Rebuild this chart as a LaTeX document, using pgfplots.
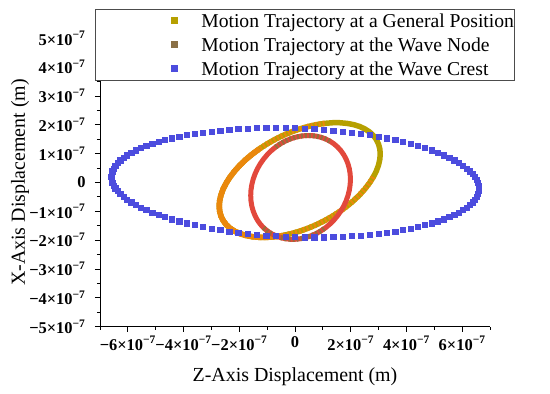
\documentclass[border=0pt]{standalone}
\usepackage{fontspec}
\setmainfont{Liberation Serif}
\usepackage{pgfplots}
\usepackage{pgfplotstable}
\pgfplotsset{compat=1.18}

\definecolor{olivec}{RGB}{182,160,0}
\definecolor{orangec}{RGB}{234,136,12}
\definecolor{redc}{RGB}{226,72,60}
\definecolor{brownc}{RGB}{150,110,60}
\definecolor{brownleg}{RGB}{138,112,70}
\definecolor{bluec}{RGB}{76,76,222}

\newcommand{\tl}[1]{\textbf{#1×10\textsuperscript{−7}}}

\pgfplotstableread{
z x
3.060 0.988
3.044 1.169
2.997 1.337
2.919 1.492
2.810 1.632
2.673 1.754
2.508 1.858
2.318 1.943
2.104 2.007
1.869 2.050
1.615 2.072
1.345 2.072
1.063 2.050
0.771 2.007
0.472 1.943
0.170 1.858
-0.132 1.754
-0.431 1.632
-0.723 1.492
-1.005 1.337
-1.275 1.169
-1.529 0.988
-1.764 0.798
-1.978 0.600
-2.168 0.396
-2.333 0.189
-2.470 -0.019
-2.579 -0.226
-2.657 -0.430
-2.704 -0.628
-2.720 -0.818
-2.704 -0.999
-2.657 -1.167
-2.579 -1.322
-2.470 -1.462
-2.333 -1.584
-2.168 -1.688
-1.978 -1.773
-1.764 -1.837
-1.529 -1.880
-1.275 -1.902
-1.005 -1.902
-0.723 -1.880
-0.431 -1.837
-0.132 -1.773
0.170 -1.688
0.472 -1.584
0.771 -1.462
1.063 -1.322
1.345 -1.167
1.615 -0.999
1.869 -0.818
2.104 -0.628
2.318 -0.430
2.508 -0.226
2.673 -0.019
2.810 0.189
2.919 0.396
2.997 0.600
3.044 0.798
3.060 0.988
}\generalring

\pgfplotstableread{
z x
1.990 0.112
1.980 0.296
1.951 0.475
1.902 0.647
1.835 0.810
1.750 0.963
1.648 1.103
1.530 1.229
1.398 1.340
1.252 1.434
1.095 1.510
0.928 1.569
0.753 1.608
0.572 1.628
0.387 1.628
0.200 1.608
0.013 1.569
-0.172 1.510
-0.353 1.434
-0.528 1.340
-0.695 1.229
-0.852 1.103
-0.998 0.963
-1.130 0.810
-1.248 0.647
-1.350 0.475
-1.435 0.296
-1.502 0.112
-1.551 -0.076
-1.580 -0.264
-1.590 -0.452
-1.580 -0.636
-1.551 -0.815
-1.502 -0.987
-1.435 -1.150
-1.350 -1.303
-1.248 -1.443
-1.130 -1.569
-0.998 -1.680
-0.852 -1.774
-0.695 -1.850
-0.528 -1.909
-0.353 -1.948
-0.172 -1.968
0.013 -1.968
0.200 -1.948
0.387 -1.909
0.572 -1.850
0.753 -1.774
0.928 -1.680
1.095 -1.569
1.252 -1.443
1.398 -1.303
1.530 -1.150
1.648 -0.987
1.750 -0.815
1.835 -0.636
1.902 -0.452
1.951 -0.264
1.980 -0.076
1.990 0.112
}\nodering

\pgfplotstableread{
z x
6.600 -0.199
6.591 -0.099
6.564 0
6.519 0.099
6.456 0.199
6.375 0.297
6.277 0.395
6.162 0.492
6.029 0.587
5.881 0.681
5.716 0.773
5.535 0.863
5.340 0.950
5.129 1.035
4.905 1.117
4.667 1.196
4.416 1.271
4.154 1.344
3.879 1.412
3.595 1.477
3.300 1.537
2.996 1.593
2.684 1.645
2.365 1.693
2.040 1.736
1.708 1.774
1.372 1.807
1.032 1.835
0.690 1.858
0.345 1.877
0 1.890
-0.345 1.897
-0.690 1.900
-1.032 1.897
-1.372 1.890
-1.708 1.877
-2.040 1.858
-2.365 1.835
-2.684 1.807
-2.996 1.774
-3.300 1.736
-3.595 1.693
-3.879 1.645
-4.154 1.593
-4.416 1.537
-4.667 1.477
-4.905 1.412
-5.129 1.344
-5.340 1.271
-5.535 1.196
-5.716 1.117
-5.881 1.035
-6.029 0.950
-6.162 0.863
-6.277 0.773
-6.375 0.681
-6.456 0.587
-6.519 0.492
-6.564 0.395
-6.591 0.297
-6.600 0.199
-6.591 0.099
-6.564 0
-6.519 -0.099
-6.456 -0.199
-6.375 -0.297
-6.277 -0.395
-6.162 -0.492
-6.029 -0.587
-5.881 -0.681
-5.716 -0.773
-5.535 -0.863
-5.340 -0.950
-5.129 -1.035
-4.905 -1.117
-4.667 -1.196
-4.416 -1.271
-4.154 -1.344
-3.879 -1.412
-3.595 -1.477
-3.300 -1.537
-2.996 -1.593
-2.684 -1.645
-2.365 -1.693
-2.040 -1.736
-1.708 -1.774
-1.372 -1.807
-1.032 -1.835
-0.690 -1.858
-0.345 -1.877
0 -1.890
0.345 -1.897
0.690 -1.900
1.032 -1.897
1.372 -1.890
1.708 -1.877
2.040 -1.858
2.365 -1.835
2.684 -1.807
2.996 -1.774
3.300 -1.736
3.595 -1.693
3.879 -1.645
4.154 -1.593
4.416 -1.537
4.667 -1.477
4.905 -1.412
5.129 -1.344
5.340 -1.271
5.535 -1.196
5.716 -1.117
5.881 -1.035
6.029 -0.950
6.162 -0.863
6.277 -0.773
6.375 -0.681
6.456 -0.587
6.519 -0.492
6.564 -0.395
6.591 -0.297
}\crestring

\begin{document}
\begin{tikzpicture}
\useasboundingbox (0,0) rectangle (550bp,394bp);
\begin{axis}[
  at={(100bp,67.3bp)}, anchor=south west,
  scale only axis, width=390bp, height=288.4bp,
  xmin=-7, xmax=7, ymin=-5, ymax=5,
  axis x line*=bottom, axis y line*=left,
  axis line style={line width=1bp, black},
  tick style={line width=0.9bp, black},
  tick align=outside,
  major tick length=5bp, minor tick length=3bp,
  xtick={-6,-4,-2,0,2,4,6},
  minor xtick={-7,-5,-3,-1,1,3,5,7},
  ytick={-5,-4,-3,-2,-1,0,1,2,3,4,5},
  minor ytick={-4.5,-3.5,-2.5,-1.5,-0.5,0.5,1.5,2.5,3.5,4.5},
  xticklabels={\tl{−6},\tl{−4},\tl{−2},\textbf{0},\tl{2},\tl{4},\tl{6}},
  yticklabels={\tl{−5},\tl{−4},\tl{−3},\tl{−2},\tl{−1},\textbf{0},\tl{1},\tl{2},\tl{3},\tl{4},\tl{5}},
  ticklabel style={font=\fontsize{16.5}{19}\selectfont\bfseries},
  yticklabel style={xshift=-6bp},
  xticklabel style={yshift=-1bp},
  xlabel={Z-Axis Displacement (m)},
  ylabel={X-Axis Displacement (m)},
  label style={font=\fontsize{20}{24}\selectfont},
  xlabel style={at={(axis description cs:0.5,-0.1907)}, anchor=base, inner sep=0pt},
  ylabel style={at={(axis description cs:-0.1923,0.5)}, anchor=base, inner sep=0pt},
  legend style={at={(axis description cs:-0.0128,1.1016)}, anchor=north west,
    draw=black!70, line width=0.6bp, fill=white,
    inner xsep=0pt, inner ysep=1bp,
    nodes={inner sep=0pt, text height=16.7bp, text depth=4bp},
    row sep=3.3bp,
    font=\fontsize{19.7}{24}\selectfont},
  legend cell align=left,
  legend image code/.code={\path[draw=none,fill=none] (-79bp,-1bp) rectangle (27bp,1bp);
    \draw[#1] plot coordinates {(0bp,0bp)};},
]
% general position ring
\addplot[olivec, line width=5.5bp, line join=round, forget plot] table[x=z,y=x] {\generalring};
\addplot[orangec, line width=5.5bp, dash pattern=on 2bp off 2bp, forget plot,
  skip coords between index={0}{12}, skip coords between index={57}{61}] table[x=z,y=x] {\generalring};
\addplot[orangec, line width=5.5bp, line join=round, forget plot,
  skip coords between index={0}{20}, skip coords between index={44}{61}] table[x=z,y=x] {\generalring};
% wave node ring
\addplot[redc, line width=5bp, line join=round, forget plot] table[x=z,y=x] {\nodering};
\addplot[brownc, line width=5bp, dash pattern=on 2bp off 2bp, forget plot,
  skip coords between index={0}{9}, skip coords between index={21}{61}] table[x=z,y=x] {\nodering};
\addplot[brownc, line width=5bp, dash pattern=on 2bp off 2bp, forget plot,
  skip coords between index={0}{37}, skip coords between index={51}{61}] table[x=z,y=x] {\nodering};
% wave crest
\addplot[only marks, mark=square*, mark size=2.6bp, color=bluec, forget plot] table[x=z,y=x] {\crestring};
\addlegendimage{only marks, mark=square*, mark size=3bp, color=olivec}
\addlegendentry{Motion Trajectory at a General Position\hspace{7bp}}
\addlegendimage{only marks, mark=square*, mark size=3bp, color=brownleg}
\addlegendentry{Motion Trajectory at the Wave Node}
\addlegendimage{only marks, mark=square*, mark size=3bp, color=bluec}
\addlegendentry{Motion Trajectory at the Wave Crest}
\end{axis}
\end{tikzpicture}
\end{document}
